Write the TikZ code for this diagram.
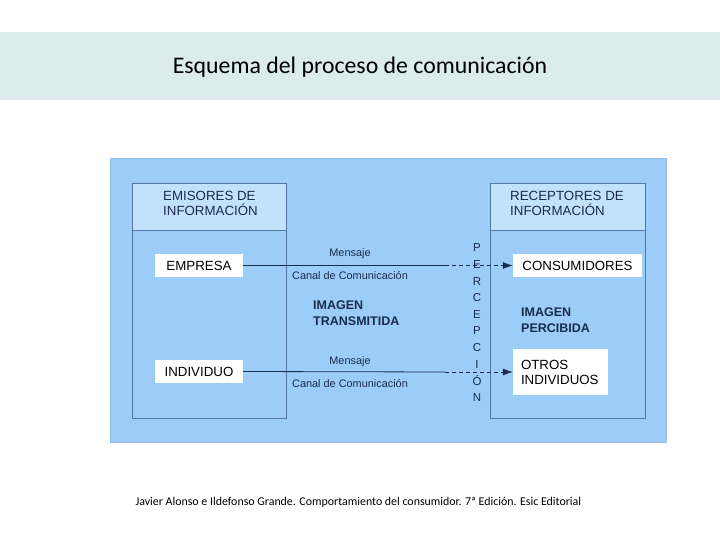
\documentclass[tikz,border=0pt]{standalone}
\usepackage{fontspec}
\setmainfont{Liberation Sans}
\newfontfamily\calib{Carlito}
\usetikzlibrary{arrows.meta}
\definecolor{band}{HTML}{DCEBEE}
\definecolor{panel}{HTML}{9CCDF9}
\definecolor{head}{HTML}{C2E1FA}
\definecolor{edge}{HTML}{5276A0}
\definecolor{ink}{HTML}{1B2A4E}
\tikzset{
  bigbox/.style={draw=edge, line width=0.7pt, fill=panel},
  headbox/.style={draw=edge, line width=0.7pt, fill=head},
  whitebox/.style={draw=none, fill=white, inner sep=0pt, font=\fontsize{13.3}{15}\selectfont, text=black},
  lab/.style={font=\fontsize{10.9}{12}\selectfont, text=ink, inner sep=0pt},
  boldlab/.style={font=\fontsize{12.5}{16}\selectfont\bfseries, text=ink, align=left, inner sep=0pt},
  headlab/.style={font=\fontsize{13.3}{15}\selectfont, text=ink, align=left, anchor=north west, inner sep=0pt},
  conn/.style={draw=ink, line width=0.8pt},
  connd/.style={draw=ink, line width=0.8pt, dash pattern=on 4pt off 3pt, -{Latex[length=10pt,width=7pt]}},
  letter/.style={font=\fontsize{11.5}{12}\selectfont, text=ink, inner sep=0pt}
}
\begin{document}
\begin{tikzpicture}[x=1pt,y=-1pt]
\useasboundingbox (0,0) rectangle (720,540);
\fill[white] (0,0) rectangle (720,540);
% title band
\fill[band] (0,32) rectangle (720,100);
\node[font=\calib\fontsize{23.8}{26}\selectfont, text=black] (title) at (360,67) {Esquema del proceso de comunicación};
% panel
\draw[draw=panel!80!gray, fill=panel] (110,158) rectangle (666,442);
% left box
\draw[bigbox] (132,183) rectangle (286,418);
\draw[headbox] (132,183) rectangle (286,230);
\node[headlab] (emis) at (163,191) {EMISORES DE\\INFORMACIÓN};
% right box
\draw[bigbox] (490,183) rectangle (645,418);
\draw[headbox] (490,183) rectangle (645,230);
\node[headlab] (recep) at (510,191) {RECEPTORES DE\\INFORMACIÓN};
% white boxes
\node[whitebox, minimum width=88pt, minimum height=23pt] (empresa) at (199,265.5) {EMPRESA};
\node[whitebox, minimum width=129pt, minimum height=23pt] (consum) at (577.5,265.5) {CONSUMIDORES};
\node[whitebox, minimum width=88pt, minimum height=23pt] (indiv) at (199,371.5) {INDIVIDUO};
\node[whitebox, minimum width=95pt, minimum height=46pt, align=left, text width=79pt, inner xsep=8pt] (otros) at (560.5,372) {\fontsize{13.3}{16}\selectfont OTROS\\INDIVIDUOS};
% connectors
\coordinate (m1) at (445,265.5);
\coordinate (m2) at (445,372);
\draw[conn] (empresa.east) -- (m1);
\draw[connd] (m1) -- (consum.west);
\draw[conn] (indiv.east) -- (m2);
\draw[connd] (m2) -- (otros.west);
% labels
\node[lab] (ms1) at (350,254) {Mensaje};
\node[lab] (cc1) at (350,276) {Canal de Comunicación};
\node[lab] (ms2) at (350,362) {Mensaje};
\node[lab] (cc2) at (350,384) {Canal de Comunicación};
\node[boldlab, anchor=north west] (imt) at (313,301) {IMAGEN\\TRANSMITIDA};
\node[boldlab, anchor=north west] (imp) at (521,308) {IMAGEN\\PERCIBIDA};
% PERCEPCION
\foreach \l [count=\i from 0] in {P,E,R,C,E,P,C,I,Ó,N}
  \node[letter] (p\i) at (477,248+16.6*\i) {\l};
% caption
\node[font=\calib\fontsize{11.9}{13}\selectfont, text=black, anchor=west] (cap) at (132,502) {Javier Alonso e Ildefonso Grande. Comportamiento del consumidor. 7ª Edición. Esic Editorial};
\end{tikzpicture}
\end{document}
